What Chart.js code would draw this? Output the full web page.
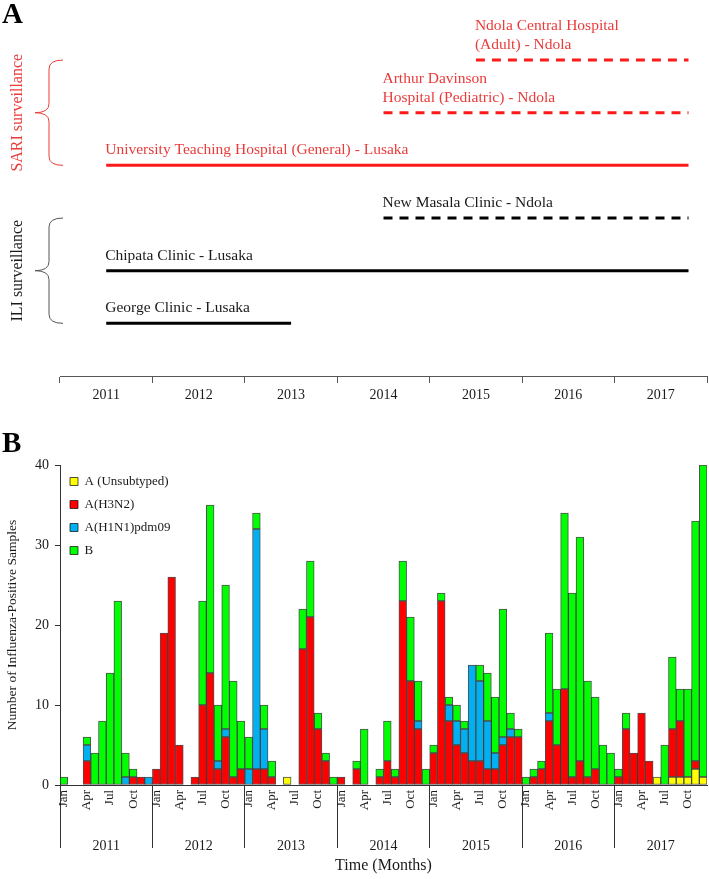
<!DOCTYPE html>
<html>
<head>
<meta charset="utf-8">
<title>Influenza surveillance sites and positive samples, Zambia 2011-2017</title>
<script src="https://cdn.jsdelivr.net/npm/chart.js@4.4.1/dist/chart.umd.min.js"></script>
<style>
    body { margin: 0; background: #ffffff; }
    canvas { display: block; }
</style>
</head>
<body>
<canvas id="panelA" width="709" height="410"></canvas>
<canvas id="panelB" width="709" height="469"></canvas>
<script>
// ---- data: panel A (surveillance sites) ----
const years = ['2011', '2012', '2013', '2014', '2015', '2016', '2017'];

const siteLabels = [
    ['Ndola Central Hospital', '(Adult) - Ndola'],
    ['Arthur Davinson', 'Hospital (Pediatric) - Ndola'],
    ['University Teaching Hospital (General) - Lusaka'],
    ['New Masala Clinic - Ndola'],
    ['Chipata Clinic - Lusaka'],
    ['George Clinic - Lusaka']
];
const siteGroups = ['SARI', 'SARI', 'SARI', 'ILI', 'ILI', 'ILI'];
const siteStart = [2015.5, 2014.5, 2011.5, 2014.5, 2011.5, 2011.5];
const siteEnd = [2017.8, 2017.8, 2017.8, 2017.8, 2017.8, 2013.5];
const siteDashed = [true, true, false, true, false, false];

const groupNames = ['SARI', 'ILI'];
const groupTitles = ['SARI surveillance', 'ILI surveillance'];

// ---- data: panel B (monthly positives, Jan 2011 - Dec 2017) ----
const monthNames = ['Jan', 'Feb', 'Mar', 'Apr', 'May', 'Jun', 'Jul', 'Aug', 'Sep', 'Oct', 'Nov', 'Dec'];

const unsubtyped = [
    0, 0, 0, 0, 0, 0, 0, 0, 0, 0, 0, 0,
    0, 0, 0, 0, 0, 0, 0, 0, 0, 0, 0, 0,
    0, 0, 0, 0, 0, 1, 0, 0, 0, 0, 0, 0,
    0, 0, 0, 0, 0, 0, 0, 0, 0, 0, 0, 0,
    0, 0, 0, 0, 0, 0, 0, 0, 0, 0, 0, 0,
    0, 0, 0, 0, 0, 0, 0, 0, 0, 0, 0, 0,
    0, 0, 0, 0, 0, 1, 0, 1, 1, 1, 2, 1
];
const h3n2 = [
    0, 0, 0, 3, 0, 0, 0, 0, 0, 1, 1, 0,
    2, 19, 26, 5, 0, 1, 10, 14, 2, 6, 1, 2,
    0, 2, 2, 1, 0, 0, 0, 17, 21, 7, 3, 0,
    1, 0, 2, 0, 0, 1, 3, 1, 23, 13, 7, 0,
    4, 23, 8, 5, 4, 3, 3, 2, 2, 5, 6, 6,
    0, 1, 2, 8, 5, 12, 1, 3, 1, 2, 0, 0,
    1, 7, 4, 9, 3, 0, 0, 6, 7, 0, 1, 0
];
const h1n1pdm09 = [
    0, 0, 0, 2, 0, 0, 0, 0, 1, 0, 0, 1,
    0, 0, 0, 0, 0, 0, 0, 0, 1, 1, 0, 0,
    2, 30, 5, 0, 0, 0, 0, 0, 0, 0, 0, 0,
    0, 0, 0, 0, 0, 0, 0, 0, 0, 0, 1, 0,
    0, 0, 2, 3, 3, 12, 10, 6, 2, 1, 1, 0,
    0, 0, 0, 1, 0, 0, 0, 0, 0, 0, 0, 0,
    0, 0, 0, 0, 0, 0, 0, 0, 0, 0, 0, 0
];
const fluB = [
    1, 0, 0, 1, 4, 8, 14, 23, 3, 1, 0, 0,
    0, 0, 0, 0, 0, 0, 13, 21, 7, 18, 12, 6,
    4, 2, 3, 2, 0, 0, 0, 5, 7, 2, 1, 1,
    0, 0, 1, 7, 0, 1, 5, 1, 5, 8, 5, 2,
    1, 1, 1, 2, 1, 0, 2, 6, 7, 16, 2, 1,
    1, 1, 1, 10, 7, 22, 23, 28, 12, 9, 5, 4,
    1, 2, 0, 0, 0, 0, 5, 9, 4, 11, 30, 39
];

const yTicks = [0, 10, 20, 30, 40];

// ---- shared look ----
const serif = '"Liberation Serif", "DejaVu Serif", serif';
const sariRed = '#ff1a1a';
const sariText = '#ea3b3b';
const textColor = '#1a1a1a';

Chart.defaults.font.family = serif;
Chart.defaults.color = textColor;

function panelLetterPlugin(letter, baseline)
{
    return {
        id: 'panelLetter' + letter,
        afterDraw(chart)
        {
            const ctx = chart.ctx;
            ctx.save();
            ctx.font = 'bold 29px ' + serif;
            ctx.fillStyle = '#000';
            ctx.textBaseline = 'alphabetic';
            ctx.fillText(letter, 2, baseline);
            ctx.restore();
        }
    };
}

// ---- panel A ----
function drawBrace(ctx, xTip, xSpine, xEnd, yTop, yBottom)
{
    const yMid = (yTop + yBottom) / 2;
    const r = 9;
    ctx.beginPath();
    ctx.moveTo(xEnd, yTop);
    ctx.quadraticCurveTo(xSpine, yTop, xSpine, yTop + r);
    ctx.lineTo(xSpine, yMid - r);
    ctx.quadraticCurveTo(xSpine, yMid, xTip, yMid);
    ctx.quadraticCurveTo(xSpine, yMid, xSpine, yMid + r);
    ctx.lineTo(xSpine, yBottom - r);
    ctx.quadraticCurveTo(xSpine, yBottom, xEnd, yBottom);
    ctx.stroke();
}

const siteDecorPlugin = {
    id: 'siteDecor',
    afterDatasetsDraw(chart)
    {
        const {ctx, chartArea, scales: {x, y}} = chart;
        ctx.save();

        // site names above their lines
        ctx.font = '15.5px ' + serif;
        ctx.textBaseline = 'middle';
        ctx.textAlign = 'left';
        siteLabels.forEach((lines, i) =>
        {
            ctx.fillStyle = siteGroups[i] === 'SARI' ? sariText : textColor;
            const px = x.getPixelForValue(siteStart[i]) - 1;
            const py = y.getPixelForValue(i);
            lines.forEach((line, k) =>
            {
                const above = 15 + (lines.length - 1 - k) * 19;
                ctx.fillText(line, px, py - above);
            });
        });

        // braces and rotated group titles
        groupNames.forEach((group, g) =>
        {
            const rows = siteGroups.map((s, i) => s === group ? i : -1).filter(i => i >= 0);
            const yTop = y.getPixelForValue(rows[0]);
            const yBottom = y.getPixelForValue(rows[rows.length - 1]);
            ctx.strokeStyle = group === 'SARI' ? sariText : '#555555';
            ctx.lineWidth = 1;
            const left = chartArea.left;
            drawBrace(ctx, left - 25, left - 11, left + 3, yTop, yBottom);

            ctx.save();
            ctx.translate(left - 42, (yTop + yBottom) / 2);
            ctx.rotate(-Math.PI / 2);
            ctx.textAlign = 'center';
            ctx.font = '16px ' + serif;
            ctx.fillStyle = group === 'SARI' ? sariText : textColor;
            ctx.fillText(groupTitles[g], 0, 0);
            ctx.restore();
        });

        ctx.restore();
    }
};

function buildSiteDatasets()
{
    return siteLabels.map((lines, i) =>
    {
        return {
            label: lines.join(' '),
            data: [{x: siteStart[i], y: i}, {x: siteEnd[i], y: i}],
            borderColor: siteGroups[i] === 'SARI' ? sariRed : '#000000',
            borderWidth: 3,
            borderDash: siteDashed[i] ? [9, 7] : [],
            borderCapStyle: 'butt',
            pointRadius: 0,
            tension: 0
        };
    });
}

function renderPanelA()
{
    new Chart(document.getElementById('panelA'), {
        type: 'line',
        data: {datasets: buildSiteDatasets()},
        options: {
            responsive: false,
            animation: false,
            events: [],
            layout: {padding: {left: 60, right: 2, top: 7.4, bottom: 0}},
            plugins: {legend: {display: false}, tooltip: {enabled: false}},
            scales: {
                x: {type: 'linear', display: false, min: 2011, max: 2018},
                years: {
                    type: 'category',
                    labels: years,
                    position: 'bottom',
                    offset: true,
                    grid: {offset: true, drawOnChartArea: false, tickLength: 7, color: '#555555'},
                    border: {display: true, color: '#555555'},
                    ticks: {padding: 4, font: {size: 14}, color: textColor},
                    afterFit: scale => { scale.height = 34; }
                },
                y: {type: 'linear', display: false, min: -1, max: 6, reverse: true}
            }
        },
        plugins: [siteDecorPlugin, panelLetterPlugin('A', 23)]
    });
}

// ---- panel B ----
function buildMonthLabels()
{
    const labels = [];
    years.forEach(() => monthNames.forEach(m => labels.push(m)));
    return labels;
}

// a vertical legend in the chart area resets its top to 0, so move it back down
const legendInsidePlugin = {
    id: 'legendInside',
    afterLayout(chart)
    {
        const legend = chart.legend;
        const height = legend.bottom - legend.top;
        legend.top = chart.chartArea.top;
        legend.bottom = legend.top + height;
    }
};

function renderPanelB()
{
    const monthLabels = buildMonthLabels();
    const barStyle = {
        borderColor: 'rgba(20, 20, 20, 0.75)',
        borderWidth: 1,
        borderSkipped: false,
        barPercentage: 1,
        categoryPercentage: 1
    };

    new Chart(document.getElementById('panelB'), {
        type: 'bar',
        data: {
            labels: monthLabels,
            datasets: [
                {label: 'A (Unsubtyped)', data: unsubtyped, backgroundColor: '#ffff00', ...barStyle},
                {label: 'A(H3N2)', data: h3n2, backgroundColor: '#ff0000', ...barStyle},
                {label: 'A(H1N1)pdm09', data: h1n1pdm09, backgroundColor: '#00b0f0', ...barStyle},
                {label: 'B', data: fluB, backgroundColor: '#00ff00', ...barStyle}
            ]
        },
        options: {
            responsive: false,
            animation: false,
            events: [],
            layout: {padding: {left: 0, right: 2, top: 55, bottom: 0}},
            plugins: {
                legend: {
                    position: 'chartArea',
                    align: 'start',
                    labels: {boxWidth: 8, boxHeight: 8, padding: 10, font: {size: 13}, color: textColor}
                },
                tooltip: {enabled: false}
            },
            scales: {
                x: {
                    stacked: true,
                    offset: true,
                    grid: {
                        display: true,
                        drawOnChartArea: false,
                        offset: true,
                        tickLength: 63,
                        color: ctx => ctx.index % 12 === 0 ? '#333333' : 'rgba(0,0,0,0)'
                    },
                    border: {display: true, color: '#333333'},
                    ticks: {
                        autoSkip: false,
                        minRotation: 90,
                        maxRotation: 90,
                        padding: -58,
                        font: {size: 13},
                        color: textColor,
                        callback: (value, index) => index % 3 === 0 ? monthLabels[index] : ''
                    },
                    afterFit: scale => { scale.height = 45; }
                },
                years: {
                    type: 'category',
                    labels: years,
                    position: 'bottom',
                    offset: true,
                    weight: 1,
                    grid: {display: false},
                    border: {display: false},
                    ticks: {padding: 0, font: {size: 14}, color: textColor},
                    title: {display: true, text: 'Time (Months)', font: {size: 16}, color: textColor, padding: {top: 4, bottom: 3.4}},
                    afterFit: scale => { scale.height = 49; }
                },
                y: {
                    stacked: true,
                    min: 0,
                    max: 40,
                    grid: {drawOnChartArea: false, tickLength: 5, color: '#333333'},
                    border: {display: true, color: '#333333'},
                    afterBuildTicks: scale => { scale.ticks = yTicks.map(v => ({value: v})); },
                    ticks: {padding: 6, font: {size: 14}, color: textColor},
                    title: {
                        display: true,
                        text: 'Number of Influenza-Positive Samples',
                        font: {size: 13.5},
                        color: textColor,
                        padding: {top: 4, bottom: 0}
                    },
                    afterFit: scale => { scale.width = 60; }
                }
            }
        },
        plugins: [legendInsidePlugin, panelLetterPlugin('B', 42)]
    });
}

renderPanelA();
renderPanelB();
</script>
</body>
</html>
